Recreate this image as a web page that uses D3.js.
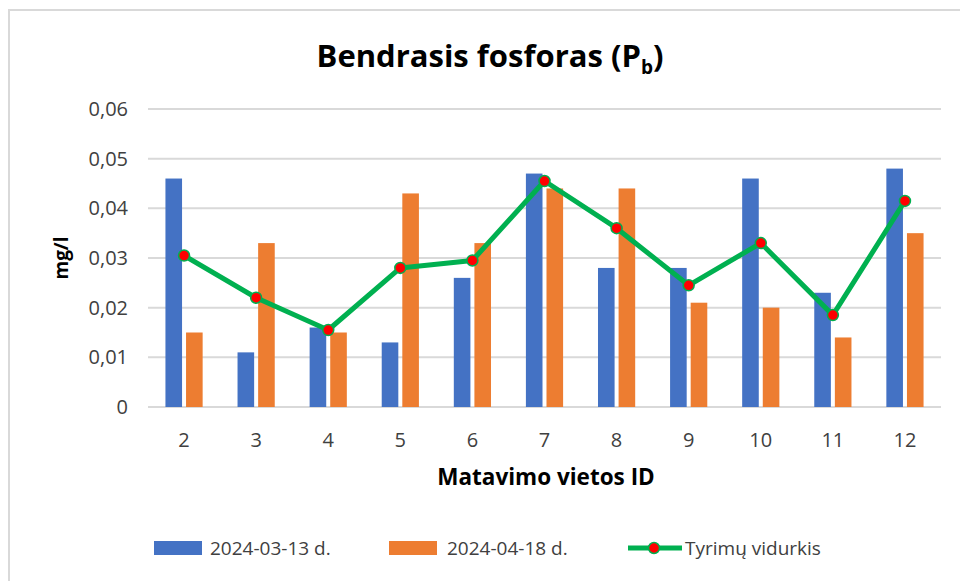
<!DOCTYPE html>
<html>
<head>
  <meta charset="UTF-8">
  <style>
    body { margin: 0; background: #fff; }
    svg { display: block; font-family: "Open Sans", sans-serif; }
  </style>
</head>
<body>
<svg></svg>
<script src="https://d3js.org/d3.v7.min.js"></script>
<script>

// data
let sites = ["2", "3", "4", "5", "6", "7", "8", "9", "10", "11", "12"];
let march = [0.046, 0.011, 0.016, 0.013, 0.026, 0.047, 0.028, 0.028, 0.046, 0.023, 0.048];
let april = [0.015, 0.033, 0.015, 0.043, 0.033, 0.044, 0.044, 0.021, 0.020, 0.014, 0.035];
let average = [0.0305, 0.022, 0.0155, 0.028, 0.0295, 0.0455, 0.036, 0.0245, 0.033, 0.0185, 0.0415];
let yTicks = [0, 0.01, 0.02, 0.03, 0.04, 0.05, 0.06];
let seriesNames = ["2024-03-13 d.", "2024-04-18 d.", "Tyrimų vidurkis"];

let width = 960, height = 581;
let svg = d3.select("svg")
    .attr("width", width)
    .attr("height", height);

// chart frame (only left and top edges visible)
svg.append("path")
    .attr("d", "M9,581 V10 H960")
    .attr("fill", "none")
    .attr("stroke", "#d9d9d9")
    .attr("stroke-width", 2);

let plotL = 148, plotR = 941, plotT = 109, plotB = 407;

let x = d3.scaleBand().domain(sites).range([plotL, plotR]);
let y = d3.scaleLinear().domain([0, 0.06]).range([plotB, plotT]);

// grid
svg.append("g")
    .selectAll("line")
    .data(yTicks)
    .enter()
        .append("line")
        .attr("x1", plotL)
        .attr("x2", plotR)
        .attr("y1", d => y(d))
        .attr("y2", d => y(d))
        .attr("stroke", "#d9d9d9")
        .attr("stroke-width", 2);

// y labels
svg.append("g")
    .selectAll("text")
    .data(yTicks)
    .enter()
        .append("text")
        .attr("x", 128)
        .attr("y", d => y(d))
        .attr("dy", "0.35em")
        .attr("text-anchor", "end")
        .attr("font-size", 20)
        .attr("fill", "#404040")
        .text(d => d === 0 ? "0" : d3.format(".2f")(d).replace(".", ","));

// x labels
svg.append("g")
    .selectAll("text")
    .data(sites)
    .enter()
        .append("text")
        .attr("x", d => x(d) + x.bandwidth() / 2)
        .attr("y", 440)
        .attr("dy", "0.35em")
        .attr("text-anchor", "middle")
        .attr("font-size", 20)
        .attr("fill", "#404040")
        .text(d => d);

// bars
let barW = 16.6, gap = 4;
let inner = d3.scaleBand().domain([0, 1]).range([0, 2 * barW + gap]).paddingInner(gap / (barW + gap));
let colors = ["#4472c4", "#ed7d31"];
[march, april].forEach((vals, k) => {
    svg.append("g")
        .selectAll("rect")
        .data(vals)
        .enter()
            .append("rect")
            .attr("x", (d, i) => x(sites[i]) + x.bandwidth() / 2 - (2 * barW + gap) / 2 + inner(k))
            .attr("y", d => y(d))
            .attr("width", inner.bandwidth())
            .attr("height", d => plotB - y(d))
            .attr("fill", colors[k]);
});

// average line
let line = d3.line()
    .x((d, i) => x(sites[i]) + x.bandwidth() / 2)
    .y(d => y(d));

svg.append("path")
    .datum(average)
    .attr("d", line)
    .attr("fill", "none")
    .attr("stroke", "#00b050")
    .attr("stroke-width", 5)
    .attr("stroke-linejoin", "round");

svg.append("g")
    .selectAll("circle")
    .data(average)
    .enter()
        .append("circle")
        .attr("cx", (d, i) => x(sites[i]) + x.bandwidth() / 2)
        .attr("cy", d => y(d))
        .attr("r", 5.5)
        .attr("fill", "#ff0000")
        .attr("stroke", "#00b050")
        .attr("stroke-width", 1.5);

// titles
svg.append("text")
    .attr("x", 490)
    .attr("y", 56)
    .attr("dy", "0.35em")
    .attr("text-anchor", "middle")
    .attr("font-size", 31)
    .attr("font-weight", "bold")
    .attr("fill", "#000")
    .html('Bendrasis fosforas (P<tspan font-size="19" dy="7">b</tspan><tspan dy="-7">)</tspan>');

svg.append("text")
    .attr("x", 546)
    .attr("y", 477)
    .attr("dy", "0.35em")
    .attr("text-anchor", "middle")
    .attr("font-size", 22.5)
    .attr("font-weight", "bold")
    .attr("fill", "#000")
    .text("Matavimo vietos ID");

svg.append("text")
    .attr("transform", "translate(61,258) rotate(-90)")
    .attr("dy", "0.35em")
    .attr("text-anchor", "middle")
    .attr("font-size", 19)
    .attr("font-weight", "bold")
    .attr("fill", "#000")
    .text("mg/l");

// legend
let lg = svg.append("g").attr("font-size", 19).attr("fill", "#404040");
let ly = 548;
[[154, 210], [389, 447]].forEach((p, k) => {
    lg.append("rect")
        .attr("x", p[0]).attr("y", ly - 7)
        .attr("width", 48).attr("height", 14)
        .attr("fill", colors[k]);
    lg.append("text")
        .attr("x", p[1]).attr("y", ly)
        .attr("dy", "0.35em")
        .text(seriesNames[k]);
});
lg.append("line")
    .attr("x1", 628).attr("x2", 682)
    .attr("y1", ly).attr("y2", ly)
    .attr("stroke", "#00b050").attr("stroke-width", 5);
lg.append("circle")
    .attr("cx", 654).attr("cy", ly).attr("r", 5.5)
    .attr("fill", "#ff0000").attr("stroke", "#00b050").attr("stroke-width", 1.5);
lg.append("text")
    .attr("x", 685).attr("y", ly)
    .attr("dy", "0.35em")
    .text(seriesNames[2]);

</script>
</body>
</html>
